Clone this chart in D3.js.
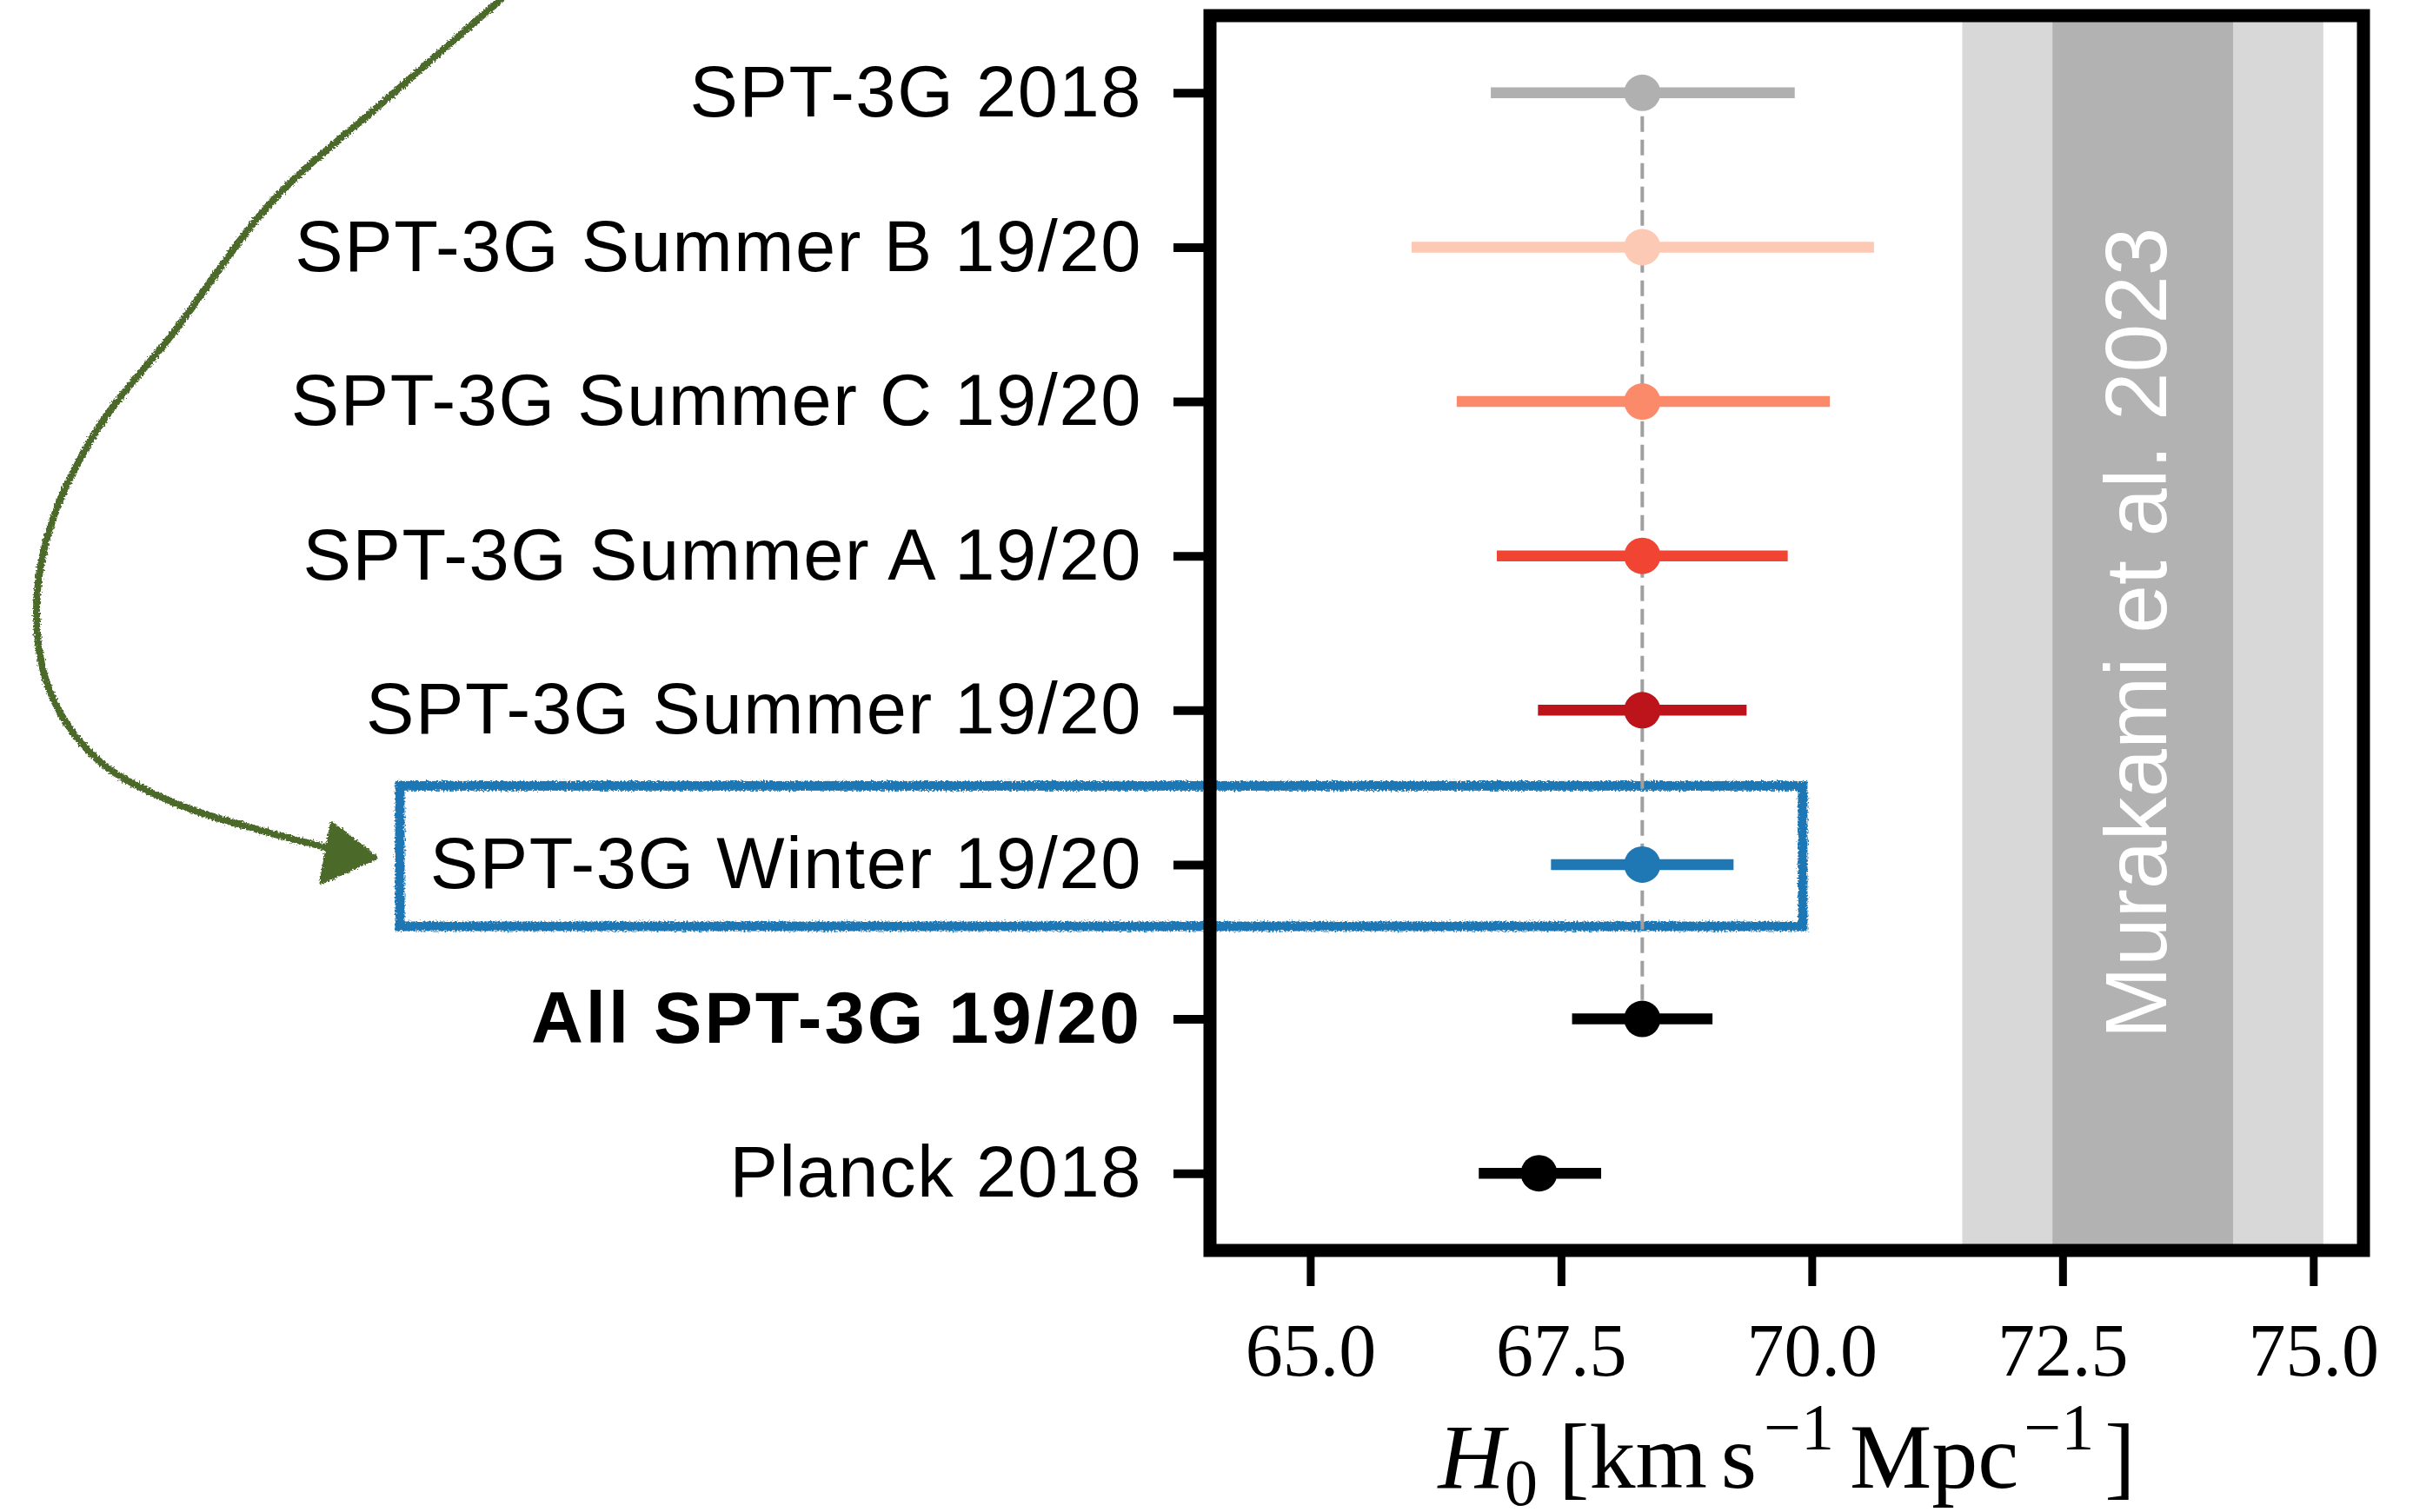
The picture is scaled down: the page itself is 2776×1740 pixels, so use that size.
<!DOCTYPE html>
<html>
<head>
<meta charset="utf-8">
<script src="https://cdn.jsdelivr.net/npm/d3@7"></script>
<style>
  body { margin: 0; background: #fff; }
  svg { display: block; }
</style>
</head>
<body>
<svg id="chart"></svg>
<script>
// size of the whole picture
var width = 2776,
    height = 1740;

// rows, top to bottom
var labels = ["SPT-3G 2018", "SPT-3G Summer B 19/20", "SPT-3G Summer C 19/20",
  "SPT-3G Summer A 19/20", "SPT-3G Summer 19/20", "SPT-3G Winter 19/20",
  "All SPT-3G 19/20", "Planck 2018"];
var centers = [68.31, 68.31, 68.31, 68.31, 68.31, 68.31, 68.31, 67.28];
var lower   = [66.80, 66.01, 66.46, 66.86, 67.27, 67.40, 67.61, 66.68];
var upper   = [69.83, 70.62, 70.18, 69.76, 69.35, 69.22, 69.01, 67.90];
var colors  = ["#b0b0b0", "#fcc9b4", "#fb8a6a", "#f14432", "#bc141a", "#1f77b4", "#000000", "#000000"];
var boldRow = 6;

// Murakami et al. 2023 band: centre and 1 sigma
var murakamiH0 = 73.3,
    murakamiSigma = 0.9;

var xTicks = [65.0, 67.5, 70.0, 72.5, 75.0];

// plot area (note: "top" is taken by window.top, so prefix them)
var plotLeft = 1392, plotRight = 2719, plotTop = 18, plotBottom = 1439;

var x = d3.scaleLinear().domain([64, 75.5]).range([plotLeft, plotRight]);
var y = d3.scaleLinear().domain([-0.5, 7.5]).range([plotTop, plotBottom]);

var svg = d3.select("#chart")
    .attr("width", width)
    .attr("height", height);

svg.append("rect").attr("width", width).attr("height", height).attr("fill", "#fff");

// rough "hand drawn" look for the annotations
var defs = svg.append("defs");
var rough = defs.append("filter").attr("id", "rough")
    .attr("x", "-5%").attr("y", "-5%").attr("width", "110%").attr("height", "110%");
rough.append("feTurbulence").attr("type", "fractalNoise")
    .attr("baseFrequency", "0.5").attr("numOctaves", 2).attr("seed", 4).attr("result", "noise");
rough.append("feDisplacementMap").attr("in", "SourceGraphic").attr("in2", "noise")
    .attr("scale", 7).attr("xChannelSelector", "R").attr("yChannelSelector", "G");

// highlight box round the winter row (under the plot)
var winterRow = 5;
svg.append("rect")
    .attr("x", 460)
    .attr("y", y(winterRow - 0.51))
    .attr("width", x(69.91) - 460)
    .attr("height", y(winterRow + 0.4) - y(winterRow - 0.51))
    .attr("fill", "none")
    .attr("stroke", "#1f77b4")
    .attr("stroke-width", 11)
    .attr("filter", "url(#rough)");

// Murakami bands
svg.append("rect")
    .attr("x", x(murakamiH0 - 2 * murakamiSigma))
    .attr("y", plotTop)
    .attr("width", x(murakamiH0 + 2 * murakamiSigma) - x(murakamiH0 - 2 * murakamiSigma))
    .attr("height", plotBottom - plotTop)
    .attr("fill", "#d8d8d8");
svg.append("rect")
    .attr("x", x(murakamiH0 - murakamiSigma))
    .attr("y", plotTop)
    .attr("width", x(murakamiH0 + murakamiSigma) - x(murakamiH0 - murakamiSigma))
    .attr("height", plotBottom - plotTop)
    .attr("fill", "#b2b2b2");

svg.append("text")
    .attr("transform", "translate(" + (x(murakamiH0) + 27) + "," + ((plotTop + plotBottom) / 2) + ") rotate(-90)")
    .attr("text-anchor", "middle")
    .attr("font-family", "'Liberation Sans', Arial, sans-serif")
    .attr("font-size", 100)
    .attr("fill", "#fff")
    .text("Murakami et al. 2023");

// dashed reference line at the combined value
svg.append("line")
    .attr("x1", x(centers[boldRow])).attr("x2", x(centers[boldRow]))
    .attr("y1", y(0)).attr("y2", y(boldRow))
    .attr("stroke", "#a0a0a0")
    .attr("stroke-width", 4)
    .attr("stroke-dasharray", "18,9");

// error bars and points
var rows = d3.range(labels.length);
svg.append("g").selectAll("line")
    .data(rows)
    .enter().append("line")
    .attr("x1", function(i) { return x(lower[i]); })
    .attr("x2", function(i) { return x(upper[i]); })
    .attr("y1", function(i) { return y(i); })
    .attr("y2", function(i) { return y(i); })
    .attr("stroke", function(i) { return colors[i]; })
    .attr("stroke-width", 12.5);

svg.append("g").selectAll("circle")
    .data(rows)
    .enter().append("circle")
    .attr("cx", function(i) { return x(centers[i]); })
    .attr("cy", function(i) { return y(i); })
    .attr("r", 21)
    .attr("fill", function(i) { return colors[i]; });

// axes
var xAxis = svg.append("g")
    .attr("transform", "translate(0," + plotBottom + ")")
    .call(d3.axisBottom(x).tickValues(xTicks).tickSize(41).tickPadding(42)
      .tickFormat(d3.format(".1f")));
xAxis.select(".domain").remove();
xAxis.selectAll(".tick line").attr("stroke", "#000").attr("stroke-width", 9);
xAxis.selectAll(".tick text")
    .attr("font-family", "'Liberation Serif', 'Times New Roman', serif")
    .attr("font-size", 86)
    .attr("fill", "#000");

var yAxis = svg.append("g")
    .attr("transform", "translate(" + plotLeft + ",0)")
    .call(d3.axisLeft(y).tickValues(rows).tickSize(42).tickPadding(36)
      .tickFormat(function(i) { return labels[i]; }));
yAxis.select(".domain").remove();
yAxis.selectAll(".tick line").attr("stroke", "#000").attr("stroke-width", 10);
yAxis.selectAll(".tick text")
    .attr("font-family", "'Liberation Sans', Arial, sans-serif")
    .attr("font-size", 83)
    .attr("letter-spacing", function(i) { return i === boldRow ? 3 : 1.6; })
    .attr("font-weight", function(i) { return i === boldRow ? "bold" : "normal"; })
    .attr("fill", "#000");

// frame
svg.append("rect")
    .attr("x", plotLeft).attr("y", plotTop)
    .attr("width", plotRight - plotLeft).attr("height", plotBottom - plotTop)
    .attr("fill", "none")
    .attr("stroke", "#000")
    .attr("stroke-width", 15);

// x label
var xl = svg.append("text")
    .attr("x", (plotLeft + plotRight) / 2)
    .attr("y", 1712)
    .attr("text-anchor", "middle")
    .attr("font-family", "'Liberation Serif', 'Times New Roman', serif")
    .attr("font-size", 106)
    .attr("fill", "#000");
xl.append("tspan").attr("font-style", "italic").text("H");
xl.append("tspan").attr("font-size", 76).attr("dy", 20).text("0");
xl.append("tspan").attr("dy", -20).attr("dx", 24).text("[km");
xl.append("tspan").attr("dx", 16).text("s");
xl.append("tspan").attr("font-size", 76).attr("dy", -44).attr("dx", 8).text("\u22121");
xl.append("tspan").attr("dy", 44).attr("dx", 18).text("Mpc");
xl.append("tspan").attr("font-size", 76).attr("dy", -44).attr("dx", 6).text("\u22121");
xl.append("tspan").attr("dy", 44).attr("dx", 12).text("]");

// green hand drawn arrow pointing to the winter row
var arrowPts = [[610, -30], [446, 113], [312, 233], [201, 381], [112, 494], [58, 606],
  [42, 705], [58, 797], [112, 874], [201, 924], [312, 959], [392, 979]];
var arrowTip = [432, 987];
var arrow = svg.append("g").attr("filter", "url(#rough)");
arrow.append("path")
    .attr("d", d3.line().curve(d3.curveCatmullRom)(arrowPts))
    .attr("fill", "none")
    .attr("stroke", "#4c6b2c")
    .attr("stroke-width", 8);
arrow.append("path")
    .attr("d", "M" + arrowTip + "L382,948L370,1015Z")
    .attr("fill", "#4c6b2c")
    .attr("stroke", "#4c6b2c")
    .attr("stroke-width", 5)
    .attr("stroke-linejoin", "round");
</script>
</body>
</html>
